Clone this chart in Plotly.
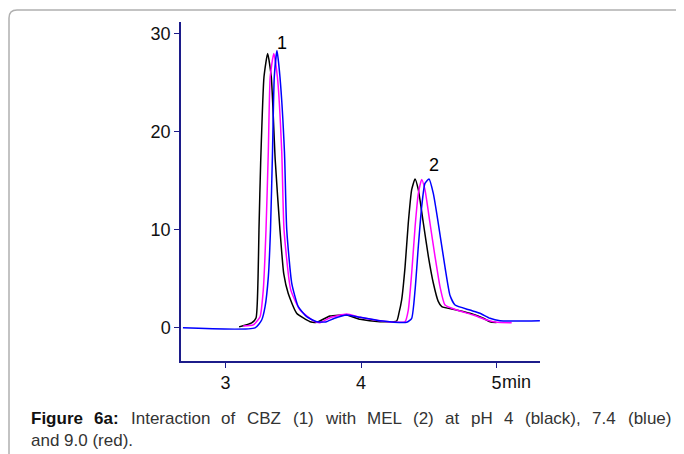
import plotly.graph_objects as go

# ---- data (time in min, signal) ----
black_t = [3.100, 3.193, 3.225, 3.240, 3.247, 3.260, 3.284, 3.311, 3.338, 3.367, 3.402, 3.430,
           3.463, 3.525, 3.624, 3.673, 3.771, 3.894, 3.993, 4.140, 4.263, 4.280, 4.300, 4.325,
           4.349, 4.374, 4.399, 4.423, 4.460, 4.497, 4.534, 4.570, 4.596, 4.706, 4.804, 4.903,
           4.952, 5.000]
black_y = [0.1, 0.5, 1.0, 5.0, 10.0, 17.1, 25.6, 28.0, 25.6, 17.1, 10.0, 5.5,
           3.5, 1.5, 0.63, 0.57, 1.21, 1.31, 0.87, 0.63, 0.7, 1.5, 2.85, 6.2,
           10.7, 14.1, 15.2, 14.1, 10.7, 7.3, 4.55, 2.7, 2.16, 1.82, 1.49, 0.98,
           0.63, 0.55]

magenta_t = [3.131, 3.205, 3.255, 3.279, 3.299, 3.316, 3.330, 3.356, 3.383, 3.415, 3.432,
             3.481, 3.550, 3.648, 3.697, 3.771, 3.894, 3.993, 4.140, 4.288, 4.325, 4.349,
             4.374, 4.399, 4.423, 4.448, 4.472, 4.509, 4.546, 4.583, 4.620, 4.706, 4.829,
             4.928, 5.001, 5.112]
magenta_y = [0.2, 0.3, 1.14, 3.9, 10.0, 18.0, 25.6, 28.0, 25.6, 18.0, 10.0,
             3.9, 1.82, 0.73, 0.53, 1.04, 1.41, 1.08, 0.73, 0.57, 0.63, 1.82,
             5.57, 10.3, 13.7, 15.15, 14.1, 10.7, 7.3, 4.2, 2.33, 1.82, 1.31,
             0.8, 0.57, 0.53]

blue_t = [2.686, 3.218, 3.267, 3.292, 3.316, 3.332, 3.347, 3.360, 3.380, 3.402, 3.435, 3.452,
          3.489, 3.537, 3.599, 3.673, 3.740, 3.800, 3.894, 3.993, 4.140, 4.337, 4.374, 4.399,
          4.423, 4.448, 4.472, 4.502, 4.534, 4.570, 4.620, 4.657, 4.694, 4.804, 4.878, 4.952,
          5.026, 5.149, 5.320]
blue_y = [0.0, 0.0, 0.8, 2.16, 5.2, 10.0, 18.0, 25.6, 28.3, 25.6, 18.0, 10.0,
          4.55, 2.16, 1.14, 0.63, 0.6, 0.95, 1.31, 1.08, 0.73, 0.57, 0.98, 3.86,
          8.3, 12.4, 14.75, 15.2, 13.7, 10.7, 6.2, 3.3, 2.33, 1.82, 1.49, 0.98,
          0.73, 0.7, 0.73]

x_ticks = [3, 4, 5]
x_tick_labels = ["3", "4", "5"]
y_ticks = [0, 10, 20, 30]
y_tick_labels = ["0", "10", "20", "30"]
peak_labels = ["1", "2"]
peak_label_t = [3.417, 4.539]
peak_label_y = [29.1, 16.6]

caption_bold = ["Figure", "6a:"]
caption_line1 = ["Interaction", "of", "CBZ", "(1)", "with", "MEL", "(2)", "at", "pH", "4",
                 "(black),", "7.4", "(blue)"]
caption_line2 = "and 9.0 (red)."

# ---- layout geometry (screen pixels; page body has an 8px margin) ----
OFF = 8
W, H = 684 - OFF, 454 - OFF
L, R, T, B = 181, 540, 22, 361


def px(x):
    return (x - L) / (R - L)


def py(y):
    return (B - y) / (B - T)


fig = go.Figure()
for t, y, c in [(black_t, black_y, "#000000"),
                (magenta_t, magenta_y, "#ff00ff"),
                (blue_t, blue_y, "#0000ff")]:
    fig.add_trace(go.Scatter(x=t, y=y, mode="lines",
                             line=dict(color=c, width=1.5, shape="spline", smoothing=0.5),
                             showlegend=False, hoverinfo="skip"))

axis_col = "#1c1c8a"
tick_font = dict(family="Arial, Liberation Sans, sans-serif", size=18, color="#111111")

fig.update_layout(
    width=W, height=H,
    margin=dict(l=L - OFF, r=W - (R - OFF), t=T - OFF, b=H - (B - OFF), pad=0),
    paper_bgcolor="white", plot_bgcolor="white",
    xaxis=dict(range=[2.6716, 5.3210], tickvals=x_ticks, ticktext=x_tick_labels,
               showgrid=False, zeroline=False, showline=True, linecolor=axis_col,
               linewidth=1.5, ticks="outside", ticklen=5, tickcolor=axis_col,
               tickwidth=1, tickfont=tick_font, fixedrange=True),
    yaxis=dict(range=[-3.38, 31.21], tickvals=y_ticks, ticktext=y_tick_labels,
               showgrid=False, zeroline=False, showline=True, linecolor=axis_col,
               linewidth=1.5, ticks="outside", ticklen=5, tickcolor=axis_col,
               tickwidth=1, tickfont=tick_font, fixedrange=True),
)

for lab, t, y in zip(peak_labels, peak_label_t, peak_label_y):
    fig.add_annotation(x=t, y=y, text=lab, showarrow=False, xref="x", yref="y",
                       font=dict(family="Arial, Liberation Sans, sans-serif", size=18, color="#000"))

# "min" unit right after the last tick label
fig.add_annotation(x=px(503), y=py(382), xref="paper", yref="paper", text="min",
                   showarrow=False, xanchor="left", yanchor="middle", xshift=-2,
                   borderpad=0, font=tick_font)

# page border (rounded top-left corner)
fig.add_shape(type="path", xref="paper", yref="paper",
              path=f"M {px(9)},{py(470)} L {px(9)},{py(18)} Q {px(9)},{py(10)} {px(17)},{py(10)} L {px(700)},{py(10)}",
              line=dict(color="#b0b0b0", width=1.5))

# ---- caption: justified first line (approximate Arial advance widths) ----
REG = {' ': 278, '(': 333, ')': 333, ',': 278, '.': 278, ':': 278, 'A': 667, 'B': 667, 'C': 722,
       'E': 667, 'H': 722, 'I': 278, 'L': 556, 'M': 833, 'Z': 611, 'a': 556, 'b': 556, 'c': 500,
       'd': 556, 'e': 556, 'f': 278, 'g': 556, 'h': 556, 'i': 222, 'k': 500, 'l': 222, 'n': 556,
       'o': 556, 'p': 556, 'r': 333, 't': 278, 'u': 556, 'w': 722, 'x': 500}
BOLD = {'F': 611, 'i': 278, 'g': 611, 'u': 611, 'r': 389, 'e': 556, 'a': 556, ':': 333}
CAP_SIZE = 17


def wwidth(word, bold):
    tbl = BOLD if bold else REG
    return sum(tbl.get(ch, 556) for ch in word) * CAP_SIZE / 1000.0


words = [(w, True) for w in caption_bold] + [(w, False) for w in caption_line1]
x_left, x_right = 31, 671
widths = [wwidth(w, b) for w, b in words]
gap = (x_right - x_left - sum(widths)) / (len(words) - 1)
cap_font = dict(family="Arial, Liberation Sans, sans-serif", size=CAP_SIZE, color="#333333")
xc = x_left
for (w, b), wd in zip(words, widths):
    f = dict(cap_font)
    if b:
        f["color"] = "#111111"
    fig.add_annotation(x=px(xc), y=py(418), xref="paper", yref="paper", showarrow=False,
                       xanchor="left", yanchor="middle", font=f,
                       text=f"<b>{w}</b>" if b else w, borderpad=0, xshift=-1)
    xc += wd + gap
fig.add_annotation(x=px(31), y=py(440), xref="paper", yref="paper", showarrow=False,
                   xanchor="left", yanchor="middle", font=cap_font, text=caption_line2,
                   borderpad=0, xshift=-1)

fig.write_html("out.html")
